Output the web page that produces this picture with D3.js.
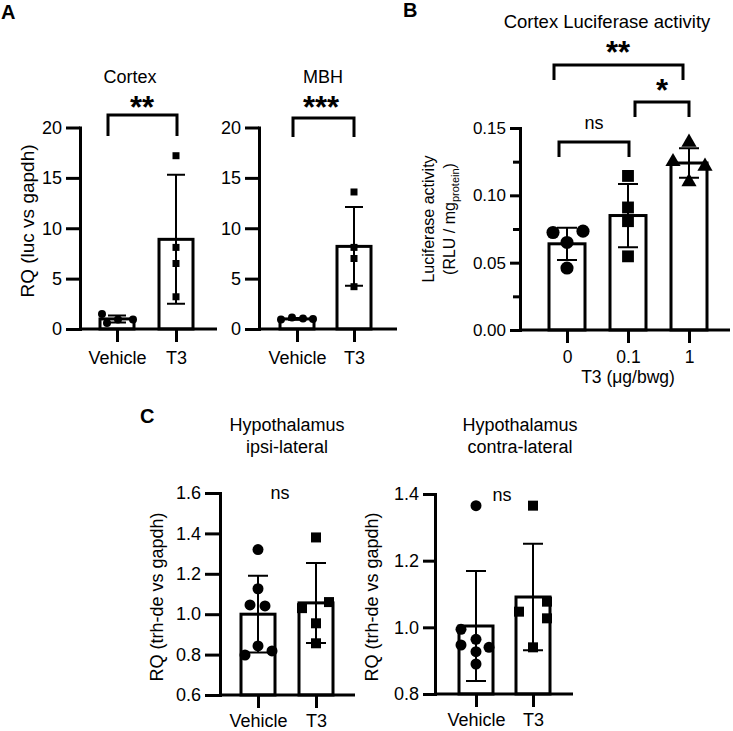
<!DOCTYPE html>
<html><head><meta charset="utf-8">
<script src="https://cdn.jsdelivr.net/npm/d3@7"></script>
<style>
body{margin:0;background:#fff}
svg{display:block}
text{font-family:"Liberation Sans",Arial,Helvetica,sans-serif;fill:#000}
</style>
</head><body>
<svg id="chart" width="733" height="731"></svg>
<script>
// ---------------- DATA ----------------
const groupLabels = ["Vehicle", "T3"];
const doseLabels = ["0", "0.1", "1"];

const cortexPoints = [[1.5, 0.6, 0.95, 0.95], [17.2, 8.1, 6.5, 3.2]];
const cortexMean = [1.0, 8.9];
const cortexSD = [0.35, 6.4];
const cortexTicks = [0, 5, 10, 15, 20];

const mbhPoints = [[0.95, 1.15, 1.05, 1.0], [13.6, 8.1, 7.0, 4.2]];
const mbhMean = [1.0, 8.2];
const mbhSD = [0.08, 3.9];
const mbhTicks = [0, 5, 10, 15, 20];

const lucPoints = [[0.0724, 0.0734, 0.065, 0.046], [0.1144, 0.091, 0.0808, 0.0547], [0.1394, 0.125, 0.1216, 0.110]];
const lucMean = [0.064, 0.085, 0.124];
const lucSD = [0.012, 0.0235, 0.011];
const lucTicks = [0, 0.05, 0.10, 0.15];
const lucMinorTicks = [0.025, 0.075, 0.125];

const ipsiPoints = [[1.32, 1.126, 1.046, 1.041, 0.843, 0.798, 0.818], [1.38, 1.03, 1.06, 0.955, 0.856]];
const ipsiMean = [1.0, 1.056];
const ipsiSD = [0.19, 0.198];
const ipsiTicks = [0.6, 0.8, 1.0, 1.2, 1.4, 1.6];

const contraPoints = [[1.365, 0.994, 0.947, 0.94, 0.964, 0.927, 0.89], [1.365, 1.047, 1.077, 1.027, 0.94]];
const contraMean = [1.004, 1.091];
const contraSD = [0.165, 0.16];
const contraTicks = [0.8, 1.0, 1.2, 1.4];

// ---------------- LAYOUT ----------------
const svg = d3.select("#chart");
const FONT = '"Liberation Sans",Arial,Helvetica,sans-serif';

function drawPanel(cfg) {
  const g = svg.append("g");
  const y = d3.scaleLinear().domain(cfg.domain).range([cfg.yBottom, cfg.yTop]);
  const x = d3.scalePoint().domain(cfg.cats).range(cfg.xRange);
  const base = y(cfg.domain[0]);

  // bars
  g.selectAll("rect.bar").data(cfg.mean).join("rect")
    .attr("x", (d, i) => x(cfg.cats[i]) - cfg.barW / 2)
    .attr("y", d => y(d))
    .attr("width", cfg.barW)
    .attr("height", d => base - y(d))
    .attr("fill", "#fff").attr("stroke", "#000").attr("stroke-width", 3);

  // error bars
  const cap = cfg.capW;
  cfg.mean.forEach((m, i) => {
    const cx = x(cfg.cats[i]);
    const yHi = y(m + cfg.sd[i]), yLo = y(Math.max(cfg.domain[0], m - cfg.sd[i]));
    const path = d3.path();
    path.moveTo(cx, yLo); path.lineTo(cx, yHi);
    path.moveTo(cx - cap / 2, yHi); path.lineTo(cx + cap / 2, yHi);
    if (m - cfg.sd[i] > cfg.domain[0]) { path.moveTo(cx - cap / 2, yLo); path.lineTo(cx + cap / 2, yLo); }
    g.append("path").attr("d", path.toString()).attr("stroke", "#000").attr("stroke-width", 2).attr("fill", "none");
  });

  // points
  cfg.points.forEach((arr, i) => {
    const sym = d3.symbol().type(cfg.symbols[i]).size(cfg.symSize[i]);
    g.selectAll(null).data(arr).join("path")
      .attr("d", sym)
      .attr("transform", (d, j) => `translate(${x(cfg.cats[i]) + cfg.jitter[i][j]},${y(d)})`)
      .attr("fill", "#000");
  });

  // y axis
  const ya = g.append("g").attr("transform", `translate(${cfg.axisX},0)`)
    .call(d3.axisLeft(y).tickValues(cfg.ticks).tickFormat(cfg.fmt)
      .tickSizeInner(cfg.tickLen).tickSizeOuter(0).tickPadding(cfg.yPad));
  ya.attr("font-family", FONT).attr("font-size", cfg.yFont);
  ya.select(".domain").attr("stroke-width", 3).attr("stroke-linecap", "square");
  ya.selectAll(".tick line").attr("stroke-width", 3);
  if (cfg.minor) {
    g.append("g").attr("transform", `translate(${cfg.axisX},0)`)
      .call(d3.axisLeft(y).tickValues(cfg.minor).tickFormat("").tickSizeInner(cfg.minorLen).tickSizeOuter(0))
      .call(s => s.select(".domain").remove())
      .selectAll(".tick line").attr("stroke-width", 3);
  }

  // x axis
  g.append("line").attr("x1", cfg.axisX).attr("x2", cfg.axisRight)
    .attr("y1", base).attr("y2", base).attr("stroke", "#000").attr("stroke-width", 3);
  const xa = g.append("g").attr("transform", `translate(0,${base})`)
    .call(d3.axisBottom(x).tickSizeInner(13).tickSizeOuter(0).tickPadding(cfg.xPad));
  xa.select(".domain").remove();
  xa.attr("font-family", FONT).attr("font-size", cfg.xFont);
  xa.selectAll(".tick line").attr("stroke-width", 3);
  return { x, y, g };
}

function bracket(x1, x2, yTop, yLeg) {
  svg.append("path").attr("d", `M${x1},${yLeg}V${yTop}H${x2}V${yLeg}`)
    .attr("fill", "none").attr("stroke", "#000").attr("stroke-width", 3);
}
function stars(txt, cx, baseline) {
  svg.append("text").attr("x", cx).attr("y", baseline).attr("text-anchor", "middle")
    .attr("font-size", 31).attr("font-weight", "bold").text(txt);
}
function label(txt, x, y, size, opts = {}) {
  const t = svg.append("text").attr("x", x).attr("y", y).attr("font-size", size)
    .attr("text-anchor", opts.anchor || "middle").text(txt);
  if (opts.bold) t.attr("font-weight", "bold");
  return t;
}
function ylabel(txt, bx, cy, size) {
  return svg.append("text").attr("transform", `translate(${bx},${cy}) rotate(-90)`)
    .attr("text-anchor", "middle").attr("font-size", size).text(txt);
}

const fmtInt = d3.format("d");
const fmt2 = d3.format(".2f");
const fmt1 = d3.format(".1f");

// Panel A - Cortex
drawPanel({
  cats: groupLabels, domain: [0, 20], yBottom: 329, yTop: 127.5, xRange: [117, 176],
  axisX: 80, axisRight: 217, barW: 34, capW: 18,
  mean: cortexMean, sd: cortexSD, points: cortexPoints,
  jitter: [[-15, -10, 1, 16], [0, 0, 0, 0]],
  symbols: [d3.symbolCircle, d3.symbolSquare], symSize: [50, 49],
  ticks: cortexTicks, fmt: fmtInt, tickLen: 14, yPad: 4, yFont: 18, xPad: 9, xFont: 18
});
// Panel A - MBH
drawPanel({
  cats: groupLabels, domain: [0, 20], yBottom: 329, yTop: 127.5, xRange: [297, 354],
  axisX: 259, axisRight: 397, barW: 34, capW: 18,
  mean: mbhMean, sd: mbhSD, points: mbhPoints,
  jitter: [[-16, -5, 6, 16], [0, 0, 0, 0]],
  symbols: [d3.symbolCircle, d3.symbolSquare], symSize: [50, 49],
  ticks: mbhTicks, fmt: fmtInt, tickLen: 14, yPad: 4, yFont: 18, xPad: 9, xFont: 18
});
// Panel B
drawPanel({
  cats: doseLabels, domain: [0, 0.15], yBottom: 330, yTop: 128, xRange: [567, 689],
  axisX: 520, axisRight: 730, barW: 36, capW: 20,
  mean: lucMean, sd: lucSD, points: lucPoints,
  jitter: [[-14, 16, 0, 0], [0, 0, 0, 0], [0, -16, 16, 0]],
  symbols: [d3.symbolCircle, d3.symbolSquare, d3.symbolTriangle], symSize: [135, 140, 100],
  ticks: lucTicks, fmt: fmt2, minor: lucMinorTicks, minorLen: 7, tickLen: 10, yPad: 4, yFont: 17, xPad: 8, xFont: 17.5
});
// Panel C - ipsi
drawPanel({
  cats: groupLabels, domain: [0.6, 1.6], yBottom: 695, yTop: 493, xRange: [258, 316],
  axisX: 220, axisRight: 355, barW: 34, capW: 20,
  mean: ipsiMean, sd: ipsiSD, points: ipsiPoints,
  jitter: [[0, 0, -8, 7, 0, -13, 14], [0, -14, 13, 0, 0]],
  symbols: [d3.symbolCircle, d3.symbolSquare], symSize: [95, 100],
  ticks: ipsiTicks, fmt: fmt1, tickLen: 15, yPad: 4, yFont: 18, xPad: 6, xFont: 18
});
// Panel C - contra
drawPanel({
  cats: groupLabels, domain: [0.8, 1.4], yBottom: 694, yTop: 494, xRange: [476, 533],
  axisX: 435, axisRight: 573, barW: 34, capW: 20,
  mean: contraMean, sd: contraSD, points: contraPoints,
  jitter: [[0, -15, -15, 13, 0, 0, 0], [0, -14, 14, 14, 0]],
  symbols: [d3.symbolCircle, d3.symbolSquare], symSize: [95, 100],
  ticks: contraTicks, fmt: fmt1, tickLen: 12, yPad: 4, yFont: 18, xPad: 6, xFont: 18
});

// Panel letters
label("A", 1, 19, 20, { anchor: "start", bold: true });
label("B", 403, 17, 20, { anchor: "start", bold: true });
label("C", 140, 423, 20, { anchor: "start", bold: true });

// Titles
label("Cortex", 130, 83, 18);
label("MBH", 323, 83, 18);
label("Cortex Luciferase activity", 607, 28, 18.5);
label("Hypothalamus", 287, 431, 18);
label("ipsi-lateral", 287, 453, 18);
label("Hypothalamus", 520, 431, 18);
label("contra-lateral", 520, 453, 18);

// Axis titles
ylabel("RQ (luc vs gapdh)", 34, 221, 19);
ylabel("Luciferase activity", 434, 219, 16);
const yl2 = svg.append("text").attr("transform", "translate(455,219) rotate(-90)")
  .attr("text-anchor", "middle").attr("font-size", 16);
yl2.append("tspan").text("(RLU / mg");
yl2.append("tspan").attr("font-size", 11).attr("dy", 4).text("protein");
yl2.append("tspan").attr("dy", -4).text(")");
label("T3 (\u03bcg/bwg)", 628, 383, 17.5);
ylabel("RQ (trh-de vs gapdh)", 163, 597, 18);
ylabel("RQ (trh-de vs gapdh)", 378, 597, 18);

// Significance brackets
bracket(108, 177, 115, 136); stars("**", 142, 118);
bracket(293, 354, 118, 137); stars("***", 321, 118);
bracket(554, 683, 65, 80); stars("**", 618, 63);
bracket(635, 689, 102, 117); stars("*", 662, 101);
bracket(559, 629, 142, 157); label("ns", 594, 129, 18);
label("ns", 280, 499, 18);
label("ns", 502, 501, 18);
</script>
</body></html>
